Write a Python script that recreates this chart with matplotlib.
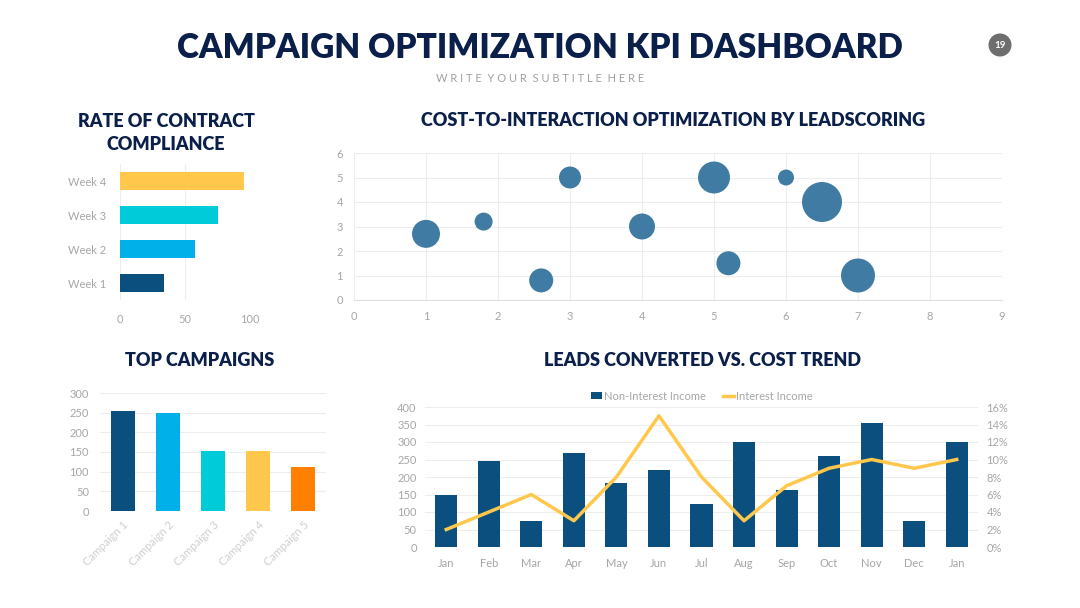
"""Campaign optimization KPI dashboard."""
import matplotlib

matplotlib.use("Agg")
import matplotlib.pyplot as plt
from matplotlib.ticker import FuncFormatter

# --- data -----------------------------------------------------------------
weeks = ["Week 1", "Week 2", "Week 3", "Week 4"]
compliance = [34, 58, 75, 95]

bubble_x = [1, 1.8, 2.6, 3, 4, 5, 5.2, 6, 6.5, 7]
bubble_y = [2.7, 3.2, 0.8, 5, 3, 5, 1.5, 5, 4, 1]
bubble_size = [1.96, 0.81, 1.44, 1.21, 1.69, 2.56, 1.44, 0.64, 4.0, 2.89]

campaigns = ["Campaign 1", "Campaign 2", "Campaign 3", "Campaign 4", "Campaign 5"]
campaign_values = [253, 250, 153, 153, 113]

months = ["Jan", "Feb", "Mar", "Apr", "May", "Jun", "Jul",
          "Aug", "Sep", "Oct", "Nov", "Dec", "Jan"]
non_interest = [150, 245, 75, 270, 183, 220, 123, 300, 163, 260, 355, 75, 300]
interest_pct = [2, 4, 6, 3, 8, 15, 8, 3, 7, 9, 10, 9, 10]

# --- styles ---------------------------------------------------------------
NAVY = "#0B1F4B"
TICK = "#A6A6A6"
GRID = "#EDEDED"
DARK_BLUE = "#0A4F7E"
LIGHT_BLUE = "#00B0E8"
CYAN = "#00CCD9"
YELLOW = "#FFC84C"
ORANGE = "#FF8000"
BUBBLE = "#3F7BA3"

plt.rcParams["font.family"] = ["Lato", "DejaVu Sans"]

W, H = 1080, 608
fig = plt.figure(figsize=(W / 100, H / 100), dpi=100)
fig.patch.set_facecolor("white")


def axes_px(left, top, right, bottom):
    return fig.add_axes([left / W, 1 - bottom / H, (right - left) / W, (bottom - top) / H])


def style(ax, label_size=8):
    for s in ax.spines.values():
        s.set_visible(False)
    ax.tick_params(length=0, colors=TICK, labelsize=label_size)
    ax.set_axisbelow(True)


def heading(x, y, text, size=13):
    fig.text(x / W, 1 - y / H, text, ha="center", va="center", color=NAVY,
             fontsize=size, fontweight="heavy", linespacing=1.4)


# header
heading(540, 48, "CAMPAIGN OPTIMIZATION KPI DASHBOARD", size=24)
fig.text(540 / W, 1 - 78 / H, "W R I T E  Y O U R  S U B T I T L E  H E R E",
         ha="center", va="center", color="#A0A0A0", fontsize=8)
fig.text(1000 / W, 1 - 45 / H, "19", ha="center", va="center", color="white",
         fontsize=7, fontweight="bold",
         bbox=dict(boxstyle="circle,pad=0.6", facecolor="#6E6E6E", edgecolor="none"))

# rate of contract compliance
heading(166, 133, "RATE OF CONTRACT\nCOMPLIANCE")
ax1 = axes_px(120, 164, 250, 300)
style(ax1)
ax1.barh(range(len(weeks)), compliance, height=0.53,
         color=[DARK_BLUE, LIGHT_BLUE, CYAN, YELLOW])
ax1.set_yticks(range(len(weeks)), weeks)
ax1.set_xlim(0, 100)
ax1.set_ylim(-0.5, 3.5)
ax1.set_xticks([0, 50, 100])
ax1.grid(axis="x", color=GRID, linewidth=0.8)
ax1.tick_params(axis="x", pad=10)
ax1.tick_params(axis="y", pad=10)

# bubble chart
heading(673, 121, "COST-TO-INTERACTION OPTIMIZATION BY LEADSCORING")
ax2 = axes_px(354, 153, 1002, 300)
style(ax2)
ax2.scatter(bubble_x, bubble_y, s=[v * 207 for v in bubble_size], color=BUBBLE,
            edgecolors="none", zorder=3)
ax2.set_xlim(0, 9)
ax2.set_ylim(0, 6)
ax2.set_xticks(range(10))
ax2.set_yticks(range(7))
ax2.grid(True, color=GRID, linewidth=0.8)
ax2.spines["bottom"].set_visible(True)
ax2.spines["bottom"].set_color("#E0E0E0")
ax2.tick_params(axis="x", pad=8)
ax2.tick_params(axis="y", pad=8)

# top campaigns
heading(200, 361, "TOP CAMPAIGNS")
ax3 = axes_px(100, 393, 326, 511)
style(ax3)
ax3.bar(range(len(campaigns)), campaign_values, width=0.53,
        color=[DARK_BLUE, LIGHT_BLUE, CYAN, YELLOW, ORANGE])
ax3.set_xlim(-0.5, 4.5)
ax3.set_ylim(0, 300)
ax3.set_yticks(range(0, 301, 50))
ax3.set_xticks(range(len(campaigns)), campaigns, rotation=45, ha="right",
               rotation_mode="anchor", color="#CFCFCF")
ax3.grid(axis="y", color=GRID, linewidth=0.8)
ax3.tick_params(axis="y", pad=8)
ax3.tick_params(axis="x", pad=6)

# leads converted vs cost trend
heading(702, 361, "LEADS CONVERTED VS. COST TREND")
ax4 = axes_px(425, 407, 978, 547)
style(ax4)
x = range(len(months))
bars = ax4.bar(x, non_interest, width=0.52, color=DARK_BLUE, label="Non-Interest Income")
ax4.set_xlim(-0.5, len(months) - 0.5)
ax4.set_ylim(0, 400)
ax4.set_yticks(range(0, 401, 50))
ax4.set_xticks(list(x), months)
ax4.grid(axis="y", color=GRID, linewidth=0.8)
ax4.tick_params(axis="x", pad=8)
ax4.tick_params(axis="y", pad=6)

ax5 = ax4.twinx()
style(ax5)
line, = ax5.plot(list(x), interest_pct, color=YELLOW, linewidth=2.5,
                 label="Interest Income", zorder=4)
ax5.set_ylim(0, 16)
ax5.set_yticks(range(0, 17, 2))
ax5.yaxis.set_major_formatter(FuncFormatter(lambda v, _: f"{v:.0f}%"))
ax5.tick_params(axis="y", pad=6)

fig.legend([bars, line], ["Non-Interest Income", "Interest Income"],
           loc="center", bbox_to_anchor=(702 / W, 1 - 396 / H), ncol=2,
           frameon=False, fontsize=8, labelcolor=TICK, handlelength=1.0,
           handletextpad=0.2, columnspacing=1.5, handleheight=0.6)

fig.savefig("out.png", dpi=100, facecolor="white")
